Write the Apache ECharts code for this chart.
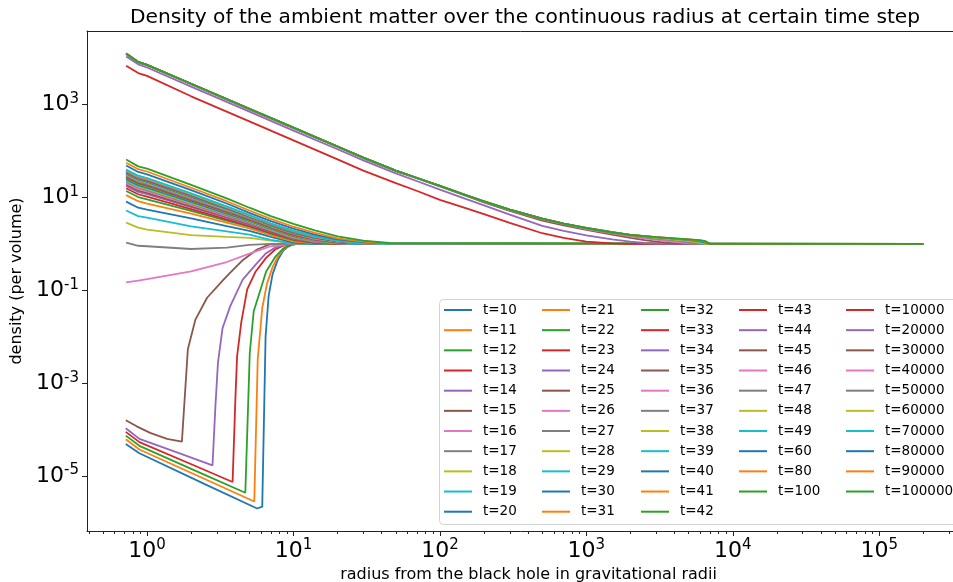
<!DOCTYPE html>
<html>
<head>
<meta charset="utf-8">
<script src="https://cdn.jsdelivr.net/npm/echarts@6/dist/echarts.min.js"></script>
<style>
  html, body { margin: 0; padding: 0; background: #ffffff; }
  #chart { width: 953px; height: 582px; }
</style>
</head>
<body>
<div id="chart"></div>
<script>
// Early steps (t = 10..15): evacuated core, [radius, log10 density] pairs per step
const holeTimes = [10, 11, 12, 13, 14, 15];
const holeProfiles = [
  [[0.716,-4.31],[0.887,-4.51],[2.5,-5.18],[5.65,-5.70],[6.12,-5.66],[6.45,-1.99],[6.77,-1.12],[7.2,-0.65],[7.8,-0.35],[8.5,-0.15],[9.3,-0.04],[10.5,0],[200000,0]],
  [[0.716,-4.21],[0.887,-4.43],[2.5,-5.07],[5.40,-5.55],[5.70,-2.49],[6.12,-1.38],[6.6,-0.85],[7.2,-0.5],[7.8,-0.28],[8.5,-0.12],[9.5,-0.03],[10.5,0],[200000,0]],
  [[0.716,-4.13],[0.887,-4.35],[2.5,-4.98],[4.69,-5.36],[5.03,-2.35],[5.35,-1.45],[5.8,-1.1],[6.5,-0.6],[7.5,-0.28],[8.5,-0.1],[10,0],[200000,0]],
  [[0.716,-4.05],[0.887,-4.27],[2.2,-4.80],[3.84,-5.13],[4.01,-3.35],[4.12,-2.42],[4.41,-1.67],[4.83,-0.98],[5.5,-0.6],[6.5,-0.3],[7.5,-0.12],[8.5,-0.04],[10,0],[200000,0]],
  [[0.716,-3.97],[0.887,-4.2],[1.6,-4.49],[2.80,-4.77],[2.93,-3.50],[3.05,-2.56],[3.28,-1.81],[3.70,-1.34],[4.50,-0.77],[5.5,-0.45],[6.5,-0.2],[7.5,-0.08],[9,0],[200000,0]],
  [[0.716,-3.80],[0.85,-3.93],[1.05,-4.07],[1.37,-4.20],[1.73,-4.26],[1.90,-2.27],[2.14,-1.63],[2.57,-1.16],[3.33,-0.77],[3.70,-0.62],[4.5,-0.35],[5.64,-0.12],[7,0],[200000,0]]
];

// Intermediate steps (t = 16..100): shared radius grid, log10 density rows
const fanTimes = [16,17,18,19,20,21,22,23,24,25,26,27,28,29,30,31,32,33,34,35,36,37,38,39,40,41,42,43,44,45,46,47,48,49,60,80,100];
const fanRadius = [0.72, 0.87, 1.0, 2.0, 3.5, 5, 7, 10, 14, 20, 30, 45, 200000];
const fanLogDensity = [
  [-0.83,-0.79,-0.76,-0.59,-0.39,-0.21,-0.05,0,0,0,0,0,0],
  [0.03,-0.04,-0.05,-0.11,-0.08,-0.02,0,0,0,0,0,0,0],
  [0.46,0.35,0.31,0.19,0.15,0.13,0.07,0.01,0,0,0,0,0],
  [0.72,0.60,0.565,0.38,0.27,0.20,0.085,0.01,0,0,0,0,0],
  [0.91,0.78,0.74,0.55,0.385,0.28,0.15,0.03,0,0,0,0,0],
  [1.05,0.92,0.87,0.65,0.46,0.335,0.19,0.05,0.01,0,0,0,0],
  [1.14,1.01,0.96,0.71,0.50,0.37,0.22,0.08,0.02,0,0,0,0],
  [1.20,1.07,1.02,0.75,0.53,0.39,0.24,0.10,0.03,0,0,0,0],
  [1.25,1.12,1.07,0.79,0.56,0.41,0.26,0.11,0.04,0.01,0,0,0],
  [1.28,1.15,1.10,0.81,0.58,0.43,0.27,0.12,0.05,0.01,0,0,0],
  [1.31,1.18,1.13,0.84,0.60,0.45,0.29,0.13,0.05,0.01,0,0,0],
  [1.34,1.21,1.16,0.86,0.62,0.46,0.30,0.14,0.06,0.02,0,0,0],
  [1.36,1.23,1.18,0.88,0.64,0.48,0.31,0.15,0.07,0.02,0,0,0],
  [1.38,1.25,1.20,0.90,0.65,0.49,0.32,0.16,0.07,0.02,0,0,0],
  [1.40,1.27,1.22,0.91,0.66,0.50,0.33,0.17,0.08,0.03,0,0,0],
  [1.42,1.29,1.24,0.93,0.68,0.51,0.34,0.18,0.08,0.03,0.01,0,0],
  [1.43,1.30,1.25,0.94,0.69,0.52,0.35,0.19,0.09,0.03,0.01,0,0],
  [1.45,1.32,1.27,0.95,0.70,0.53,0.36,0.20,0.10,0.04,0.01,0,0],
  [1.46,1.33,1.28,0.96,0.71,0.54,0.37,0.21,0.10,0.04,0.01,0,0],
  [1.47,1.34,1.29,0.97,0.72,0.55,0.37,0.21,0.11,0.04,0.01,0,0],
  [1.48,1.35,1.30,0.98,0.73,0.56,0.38,0.22,0.11,0.05,0.01,0,0],
  [1.49,1.36,1.31,0.99,0.74,0.56,0.39,0.23,0.12,0.05,0.01,0,0],
  [1.50,1.37,1.32,1.00,0.74,0.57,0.39,0.23,0.12,0.05,0.01,0,0],
  [1.51,1.38,1.33,1.01,0.75,0.57,0.40,0.24,0.13,0.05,0.02,0,0],
  [1.52,1.39,1.34,1.02,0.76,0.58,0.40,0.24,0.13,0.06,0.02,0,0],
  [1.53,1.40,1.35,1.03,0.77,0.58,0.41,0.25,0.14,0.06,0.02,0,0],
  [1.54,1.41,1.36,1.04,0.77,0.59,0.41,0.25,0.14,0.06,0.02,0,0],
  [1.55,1.42,1.37,1.05,0.78,0.59,0.42,0.26,0.14,0.06,0.02,0,0],
  [1.56,1.43,1.38,1.05,0.78,0.60,0.42,0.26,0.15,0.06,0.02,0,0],
  [1.57,1.44,1.39,1.06,0.79,0.60,0.43,0.27,0.15,0.07,0.02,0,0],
  [1.57,1.44,1.39,1.07,0.79,0.61,0.43,0.27,0.15,0.07,0.02,0,0],
  [1.58,1.45,1.40,1.07,0.80,0.61,0.43,0.27,0.16,0.07,0.02,0,0],
  [1.59,1.46,1.41,1.08,0.80,0.61,0.44,0.28,0.16,0.07,0.02,0,0],
  [1.60,1.47,1.42,1.09,0.81,0.62,0.44,0.28,0.16,0.07,0.02,0,0],
  [1.69,1.55,1.50,1.16,0.87,0.67,0.49,0.33,0.20,0.10,0.04,0.01,0],
  [1.75,1.61,1.56,1.21,0.92,0.72,0.54,0.37,0.24,0.12,0.05,0.01,0],
  [1.82,1.67,1.62,1.27,0.98,0.78,0.60,0.43,0.29,0.16,0.07,0.02,0]
];

// Late steps (t = 10000..100000): shared radius grid, log10 density rows
const lateTimes = [10000,20000,30000,40000,50000,60000,70000,80000,90000,100000];
const lateRadius = [0.72, 0.87, 1.0, 2, 5, 10, 20, 30, 50, 70, 100, 150, 200, 300, 500, 700, 1000, 1500, 2000, 2500, 3000, 4000, 5000, 6000, 6500, 7000, 200000];
const lateLogDensity = [
  [3.84,3.68,3.62,3.18,2.64,2.23,1.82,1.58,1.31,1.14,0.95,0.77,0.64,0.455,0.23,0.13,0.05,0.012,0,0,0,0,0,0,0,0,0],
  [4.04,3.87,3.80,3.39,2.85,2.44,2.04,1.80,1.52,1.35,1.17,0.97,0.83,0.63,0.39,0.28,0.185,0.10,0.05,0.02,0.005,0,0,0,0,0,0],
  [4.09,3.91,3.85,3.44,2.90,2.495,2.09,1.85,1.57,1.41,1.24,1.04,0.895,0.71,0.50,0.40,0.30,0.20,0.13,0.08,0.05,0.01,0,0,0,0,0],
  [4.095,3.915,3.855,3.45,2.91,2.50,2.095,1.855,1.575,1.415,1.245,1.045,0.91,0.73,0.53,0.425,0.32,0.23,0.165,0.12,0.09,0.045,0.01,0,0,0,0],
  [4.10,3.92,3.857,3.451,2.912,2.505,2.098,1.86,1.58,1.42,1.25,1.05,0.915,0.735,0.54,0.435,0.335,0.24,0.18,0.14,0.115,0.075,0.035,0,0,0,0],
  [4.10,3.92,3.857,3.451,2.912,2.505,2.098,1.86,1.58,1.42,1.25,1.05,0.915,0.739,0.544,0.439,0.34,0.248,0.19,0.16,0.13,0.095,0.06,0.02,0,0,0],
  [4.10,3.92,3.857,3.451,2.912,2.505,2.098,1.86,1.58,1.42,1.25,1.05,0.915,0.739,0.544,0.439,0.342,0.25,0.195,0.17,0.14,0.11,0.08,0.045,0.02,0,0],
  [4.10,3.92,3.857,3.451,2.912,2.505,2.098,1.86,1.58,1.42,1.25,1.05,0.915,0.739,0.544,0.439,0.343,0.251,0.195,0.167,0.145,0.115,0.09,0.06,0.03,0,0],
  [4.10,3.92,3.857,3.451,2.912,2.505,2.098,1.86,1.58,1.42,1.25,1.05,0.915,0.739,0.544,0.439,0.343,0.251,0.195,0.168,0.146,0.117,0.095,0.07,0.045,0,0],
  [4.10,3.92,3.857,3.451,2.912,2.505,2.098,1.86,1.58,1.42,1.25,1.05,0.915,0.739,0.544,0.439,0.343,0.251,0.195,0.168,0.146,0.118,0.099,0.08,0.06,0,0]
];

// Axis ticks
const xMajorTicks = [1, 10, 100, 1000, 10000, 100000];
const xMinorTicks = [0.4,0.5,0.6,0.7,0.8,0.9, 2,3,4,5,6,7,8,9, 20,30,40,50,60,70,80,90,
  200,300,400,500,600,700,800,900, 2000,3000,4000,5000,6000,7000,8000,9000,
  20000,30000,40000,50000,60000,70000,80000,90000, 200000,300000,400000];
const yMajorTicks = [1e-5, 1e-3, 1e-1, 10, 1000];

const palette = ['#1f77b4','#ff7f0e','#2ca02c','#d62728','#9467bd','#8c564b','#e377c2','#7f7f7f','#bcbd22','#17becf'];
const FONT = 'DejaVu Sans';

// Build the series in time order so later steps are drawn on top
const series = [];
function addSeries(t, points) {
  const idx = series.length;
  const c = palette[idx % palette.length];
  series.push({
    name: 't=' + t,
    type: 'line',
    data: points,
    showSymbol: false,
    symbol: 'none',
    smooth: false,
    color: c,
    itemStyle: { color: c },
    lineStyle: { width: 1.8, color: c },
    emphasis: { disabled: true },
    z: 2
  });
}
holeTimes.forEach((t, i) => addSeries(t, holeProfiles[i].map(p => [p[0], Math.pow(10, p[1])])));
fanTimes.forEach((t, i) => addSeries(t, fanRadius.map((r, j) => [r, Math.pow(10, fanLogDensity[i][j])])));
lateTimes.forEach((t, i) => addSeries(t, lateRadius.map((r, j) => [r, Math.pow(10, lateLogDensity[i][j])])));

const names = series.map(s => s.name);
const legendCols = [names.slice(0, 11), names.slice(11, 22), names.slice(22, 33), names.slice(33, 43), names.slice(43, 53)];
const legendLeft = [444, 542, 641, 739, 846];
const legends = legendCols.map((col, i) => ({
  data: col,
  orient: 'vertical',
  left: legendLeft[i],
  top: 303,
  padding: 0,
  icon: 'rect',
  itemWidth: 28,
  itemHeight: 2,
  itemGap: 6.17,
  selectedMode: false,
  textStyle: { fontFamily: FONT, fontSize: 13.5, lineHeight: 14, color: '#000', padding: [0, 0, 0, 6] },
  z: 10
}));

function powLabel(v) {
  const e = Math.round(Math.log10(v));
  return '{b|10}{s|' + e + '}';
}
const richPow = {
  b: { fontFamily: FONT, fontSize: 22, color: '#000', lineHeight: 26 },
  s: { fontFamily: FONT, fontSize: 15, color: '#000', lineHeight: 17, verticalAlign: 'top' }
};

const xMin = Math.pow(10, -0.41), xMax = Math.pow(10, 5.62);
const yMin = Math.pow(10, -6.185), yMax = Math.pow(10, 4.587);

const chart = echarts.init(document.getElementById('chart'), null, { renderer: 'canvas' });
chart.setOption({
  animation: false,
  backgroundColor: '#ffffff',
  title: {
    text: 'Density of the ambient matter over the continuous radius at certain time step',
    left: 525, top: 8, padding: 0, textAlign: 'center',
    textStyle: { fontFamily: FONT, fontSize: 20.2, fontWeight: 'normal', color: '#000' }
  },
  grid: {
    left: 87, right: -17, top: 31, bottom: 51,
    containLabel: false, outerBoundsMode: 'none',
    show: false
  },
  xAxis: [{
    type: 'log', min: xMin, max: xMax, position: 'bottom',
    name: 'radius from the black hole in gravitational radii',
    nameLocation: 'middle', nameGap: 34,
    nameTextStyle: { fontFamily: FONT, fontSize: 16, color: '#000' },
    axisLine: { show: true, lineStyle: { color: '#222', width: 1 } },
    axisTick: { show: true, length: 5, customValues: xMajorTicks, lineStyle: { color: '#222' } },
    axisLabel: { customValues: xMajorTicks, margin: 7, formatter: powLabel, rich: richPow },
    splitLine: { show: false }
  }, {
    type: 'log', min: xMin, max: xMax, position: 'bottom',
    axisLine: { show: false },
    axisTick: { show: true, length: 3, customValues: xMinorTicks, lineStyle: { color: '#222' } },
    axisLabel: { show: false },
    splitLine: { show: false }
  }, {
    type: 'log', min: xMin, max: xMax, position: 'top',
    axisLine: { show: true, lineStyle: { color: '#222', width: 1 } },
    axisTick: { show: false },
    axisLabel: { show: false },
    splitLine: { show: false }
  }],
  yAxis: {
    type: 'log', min: yMin, max: yMax,
    name: 'density (per volume)', nameLocation: 'middle', nameGap: 43,
    nameTextStyle: { fontFamily: FONT, fontSize: 16, color: '#000' },
    axisLine: { show: true, lineStyle: { color: '#222', width: 1 } },
    axisTick: { show: true, length: 5, customValues: yMajorTicks, lineStyle: { color: '#222' } },
    axisLabel: { customValues: yMajorTicks, margin: 8, formatter: powLabel, rich: richPow },
    splitLine: { show: false }
  },
  legend: legends,
  graphic: [{
    type: 'rect', z: 8,
    shape: { x: 439.5, y: 299.5, width: 620, height: 225, r: 4 },
    style: { fill: 'rgba(255,255,255,0.8)', stroke: '#d4d4d4', lineWidth: 1 }
  }],
  series: series
});
</script>
</body>
</html>
